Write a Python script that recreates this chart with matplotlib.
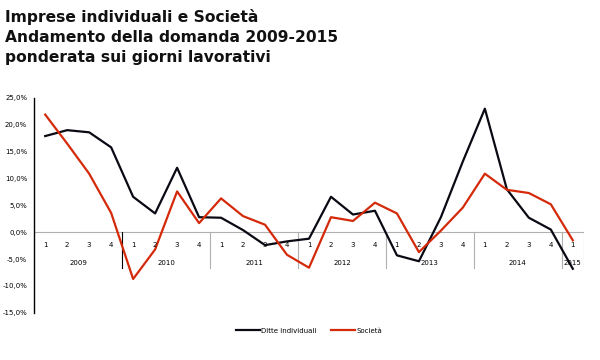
import matplotlib
matplotlib.use('Agg')
import matplotlib.pyplot as plt
import numpy as np

years = ['2009', '2010', '2011', '2012', '2013', '2014', '2015']
quarters_per_year = [4, 4, 4, 4, 4, 4, 1]
ditte = [17.9, 19.0, 18.6, 15.8,
         6.6, 3.5, 12.0, 2.8,
         2.7, 0.4, -2.4, -1.7,
         -1.2, 6.6, 3.3, 4.0,
         -4.3, -5.4, 2.8, 13.2,
         23.0, 8.0, 2.7, 0.5,
         -6.8]
societa = [21.9, 16.5, 10.9, 3.6,
           -8.7, -3.2, 7.6, 1.7,
           6.3, 3.0, 1.4, -4.2,
           -6.6, 2.8, 2.1, 5.5,
           3.5, -3.7, 0.3, 4.6,
           10.9, 7.9, 7.3, 5.2,
           -1.5]
yticks = [-15, -10, -5, 0, 5, 10, 15, 20, 25]

fig = plt.figure(figsize=(6, 3.6), dpi=100)
ax = fig.add_axes([0.057, 0.131, 0.916, 0.597])

x = np.arange(len(ditte))
ax.plot(x, ditte, color='#0a0a14', lw=1.6, label='Ditte individuali')
ax.plot(x, societa, color='#d42a0a', lw=1.6, label='Società')

ax.set_xlim(-0.5, len(ditte) - 0.5)
ax.set_ylim(-15, 25)
ax.set_yticks(yticks)
ax.yaxis.set_major_formatter(plt.FuncFormatter(lambda v, p: ('%.1f%%' % v).replace('.', ',')))
ax.tick_params(axis='y', labelsize=5, length=0, pad=5)
ax.set_xticks([])
for s in ['top', 'right', 'bottom']:
	ax.spines[s].set_visible(False)
ax.spines['left'].set_linewidth(1.0)
ax.axhline(0, color='#b0b0b0', lw=0.8, zorder=0)

# quarter and year labels under the zero line
i = 0
for yr, n in zip(years, quarters_per_year):
	for q in range(n):
		ax.text(i + q, -2.4, str(q + 1), ha='center', va='center', fontsize=5)
	ax.text(i + (n - 1) / 2.0, -5.8, yr, ha='center', va='center', fontsize=5)
	left = i - 0.5
	right = i + n - 0.5
	if i > 0:
		c = '#000000' if i == 4 else '#b0b0b0'
		ax.plot([left, left], [0, -6.7], color=c, lw=0.8, zorder=0)
	if yr == years[-1]:
		ax.plot([right, right], [0, -6.7], color='#b0b0b0', lw=0.8, zorder=0)
	i += n

fig.text(0.008, 0.975, 'Imprese individuali e Società\nAndamento della domanda 2009-2015\nponderata sui giorni lavorativi',
         ha='left', va='top', fontsize=11.2, fontweight='bold', color='#111111', linespacing=1.4)

ax.legend(loc='upper center', bbox_to_anchor=(0.5, -0.04), ncol=2, frameon=False,
          fontsize=5, handlelength=3.5, handletextpad=0.2, columnspacing=2)

fig.savefig('out.png', dpi=100)
